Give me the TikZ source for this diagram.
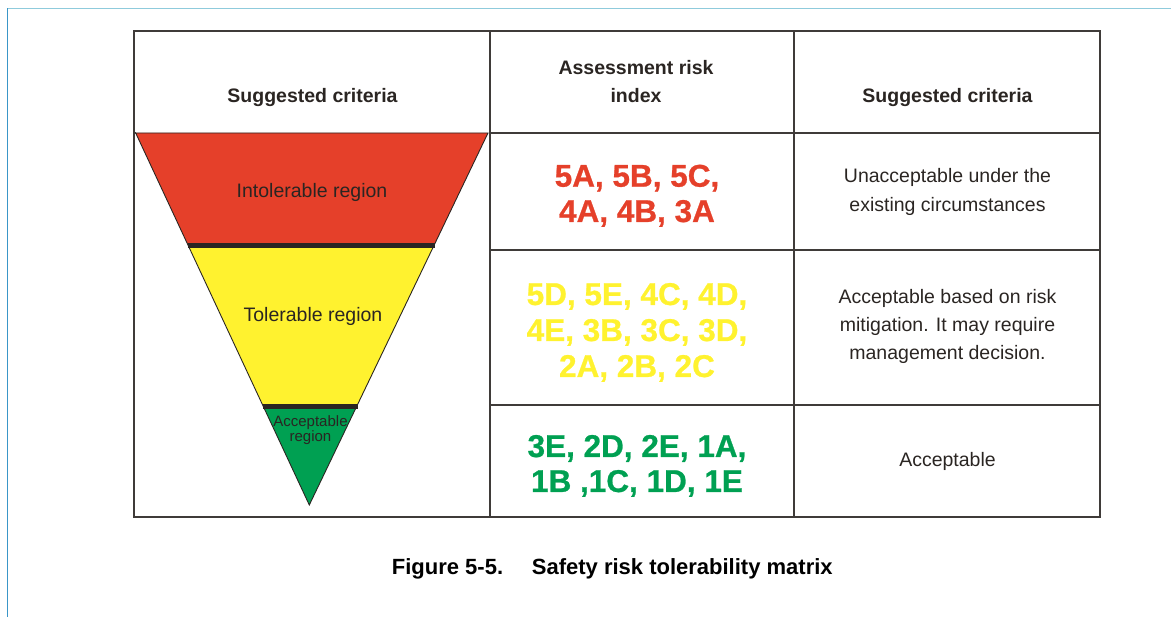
\documentclass[tikz,border=0pt]{standalone}
\usepackage{fontspec}
\setmainfont{Liberation Sans}
\newfontfamily\codefont[FakeBold=0.8]{Liberation Sans}
\definecolor{tred}{HTML}{E5402A}
\definecolor{tyellow}{HTML}{FFF22F}
\definecolor{tgreen}{HTML}{00A052}
\definecolor{ink}{HTML}{2A2522}
\definecolor{grid}{HTML}{3F3B39}
\definecolor{frametop}{HTML}{8FCBDC}
\definecolor{frameleft}{HTML}{3A96C8}
\tikzset{
  cell/.style={anchor=base, inner sep=0pt, text=ink, font=\fontsize{19.5}{24}\selectfont},
  head/.style={anchor=base, inner sep=0pt, text=ink, font=\fontsize{19.5}{24}\selectfont\bfseries},
  code/.style={anchor=base, inner sep=0pt, font=\codefont\fontsize{31.5}{36}\selectfont\bfseries},
  small/.style={anchor=base, inner sep=0pt, text=ink, font=\fontsize{15}{15}\selectfont},
  figcap/.style={anchor=base west, inner sep=0pt, text=black, font=\fontsize{22}{24}\selectfont\bfseries},
  gridline/.style={draw=grid, line width=1.3pt},
  bar/.style={draw=ink, line width=5pt}
}
\begin{document}
\begin{tikzpicture}[x=1pt,y=-1pt]
\useasboundingbox (0,0) rectangle (1171,617);
% outer frame
\draw[frametop, line width=1.5pt] (7.5,8.3) -- (1171,8.3);
\draw[frameleft, line width=1.5pt] (7.5,8.3) -- (7.5,617);
% triangle
\coordinate (TL) at (135.7,133);
\coordinate (TR) at (488,133);
\coordinate (AP) at (309.3,505);
\begin{scope}
\clip (TL) -- (TR) -- (AP) -- cycle;
\fill[tred] (130,130) rectangle (495,245.7);
\fill[tyellow] (130,245.7) rectangle (495,406.7);
\fill[tgreen] (130,406.7) rectangle (495,510);
\end{scope}
\draw[ink, line width=0.9pt, line join=miter] (TL) -- (TR) -- (AP) -- cycle;
\coordinate (b1l) at (187.7,245.7);
\coordinate (b1r) at (435,245.7);
\coordinate (b2l) at (262.7,406.7);
\coordinate (b2r) at (358.3,406.7);
\draw[bar] (b1l) -- (b1r);
\draw[bar] (b2l) -- (b2r);
% table grid
\draw[gridline] (134,31) rectangle (1100,517);
\draw[gridline] (490,31) -- (490,517);
\draw[gridline] (794,31) -- (794,517);
\draw[gridline] (490,133) -- (1100,133);
\draw[gridline] (134,133) -- (136,133);
\draw[gridline] (490,250) -- (1100,250);
\draw[gridline] (490,405) -- (1100,405);
% headers
\node[head] (h1) at (312.5,103) {Suggested criteria};
\node[head] (h2a) at (636,75) {Assessment risk};
\node[head] (h2b) at (636,103) {index};
\node[head] (h3) at (947.5,103) {Suggested criteria};
% triangle labels
\node[cell] (tl1) at (312,198) {Intolerable region};
\node[cell] (tl2) at (313,321.7) {Tolerable region};
\node[small] (tl3a) at (310.5,427) {Acceptable};
\node[small] (tl3b) at (310.5,441.5) {region};
% codes
\node[code, text=tred] (r1) at (637,186.7) {5A, 5B, 5C,};
\node[code, text=tred] (r2) at (637,222) {4A, 4B, 3A};
\node[code, text=tyellow] (y1) at (637,305) {5D, 5E, 4C, 4D,};
\node[code, text=tyellow] (y2) at (637,341) {4E, 3B, 3C, 3D,};
\node[code, text=tyellow] (y3) at (637,377) {2A, 2B, 2C};
\node[code, text=tgreen] (g1) at (637,457) {3E, 2D, 2E, 1A,};
\node[code, text=tgreen] (g2) at (637,492) {1B ,1C, 1D, 1E};
% criteria
\node[cell] (c1a) at (947.5,183) {Unacceptable under the};
\node[cell] (c1b) at (947.5,211.5) {existing circumstances};
\node[cell] (c2a) at (947.5,304) {Acceptable based on risk};
\node[cell] (c2b) at (947.5,332) {mitigation. It may require};
\node[cell] (c2c) at (947.5,360) {management decision.};
\node[cell] (c3) at (947.5,466.5) {Acceptable};
% caption
\node[figcap] (fig) at (391.7,575) {Figure 5-5.};
\node[figcap] (title) at (531.7,575) {Safety risk tolerability matrix};
\end{tikzpicture}
\end{document}
